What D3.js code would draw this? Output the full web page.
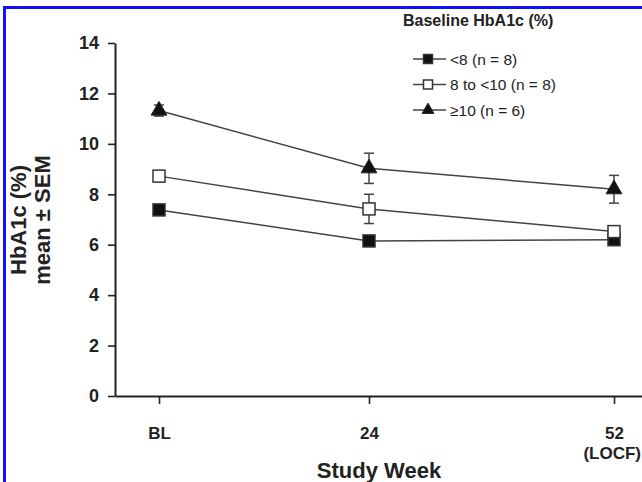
<!DOCTYPE html>
<html>
<head>
<meta charset="utf-8">
<script src="https://cdn.jsdelivr.net/npm/d3@7"></script>
<style>
  body { margin: 0; background: #fff; }
  svg { display: block; font-family: "Liberation Sans", Arial, sans-serif; }
</style>
</head>
<body>
<div id="chart"></div>
<script>
// study weeks (BL = 0), with tick labels
const weeks = [0, 24, 52];
const weekLabels = ["BL", "24", "52"];
const yTicks = [0, 2, 4, 6, 8, 10, 12, 14];

// series: mean HbA1c and SEM
const seriesNames = ["<8 (n = 8)", "8 to <10 (n = 8)", "\u226510 (n = 6)"];
const lowMean = [7.38, 6.15, 6.2];
const lowSem = [0.1, 0.1, 0.1];
const midMean = [8.72, 7.42, 6.52];
const midSem = [0.15, 0.58, 0.12];
const highMean = [11.32, 9.03, 8.2];
const highSem = [0.22, 0.6, 0.55];

const width = 642, height = 482;
const margin = {top: 43, right: 0, bottom: 86, left: 115};

const svg = d3.select("#chart").append("svg")
    .attr("width", width)
    .attr("height", height);

// blue frame (clipped at right and bottom like the picture)
svg.append("rect")
    .attr("x", 4.5).attr("y", 7.5)
    .attr("width", width + 10).attr("height", height + 10)
    .attr("fill", "none")
    .attr("stroke", "#1010ff")
    .attr("stroke-width", 3);

let x = d3.scaleLinear()
    .domain([-5.03, 55.2])
    .range([margin.left, width - margin.right]);

let y = d3.scaleLinear()
    .domain([0, 14])
    .range([height - margin.bottom, margin.top]);

const series = [
  {name: seriesNames[0], mean: lowMean, sem: lowSem, shape: "square", fill: "#111"},
  {name: seriesNames[1], mean: midMean, sem: midSem, shape: "square", fill: "#fff"},
  {name: seriesNames[2], mean: highMean, sem: highSem, shape: "triangle", fill: "#111"}
];

// axes
let yAxis = g => g
    .attr("transform", `translate(${margin.left},0)`)
    .call(d3.axisLeft(y).tickValues(yTicks).tickSize(7).tickPadding(9).tickSizeOuter(0))
    .call(g => g.select(".domain").attr("stroke", "#222").attr("stroke-width", 2))
    .call(g => g.selectAll(".tick line").attr("stroke", "#222").attr("stroke-width", 1.6))
    .call(g => g.selectAll("text").attr("font-size", 18).attr("font-weight", "bold").attr("fill", "#222"));

let xAxis = g => g
    .attr("transform", `translate(0,${y(0)})`)
    .call(d3.axisBottom(x).tickValues(weeks).tickFormat((d, i) => weekLabels[i]).tickSize(8).tickPadding(23).tickSizeOuter(0))
    .call(g => g.select(".domain").attr("stroke", "#222").attr("stroke-width", 2))
    .call(g => g.selectAll(".tick line").attr("stroke", "#222").attr("stroke-width", 1.6))
    .call(g => g.selectAll("text").attr("font-size", 17).attr("font-weight", "bold").attr("fill", "#222"));

svg.append("g").call(xAxis);
svg.append("g").call(yAxis);

// (LOCF) under the 52 tick, kept inside the right edge
svg.append("text")
    .attr("x", width - 1).attr("y", 459)
    .attr("text-anchor", "end")
    .attr("font-size", 17).attr("font-weight", "bold").attr("fill", "#222")
    .text("(LOCF)");

// axis titles
svg.append("text")
    .attr("x", 379).attr("y", 478)
    .attr("text-anchor", "middle")
    .attr("font-size", 22).attr("font-weight", "bold").attr("fill", "#222")
    .text("Study Week");

const yt = svg.append("text")
    .attr("transform", "translate(26,220) rotate(-90)")
    .attr("text-anchor", "middle")
    .attr("font-size", 22).attr("font-weight", "bold").attr("fill", "#222");
yt.append("tspan").attr("x", 0).attr("dy", 0).text("HbA1c (%)");
yt.append("tspan").attr("x", 0).attr("dy", 24).text("mean \u00b1 SEM");

function marker(g, shape, fill, size) {
  if (shape === "square") {
    g.append("rect")
      .attr("x", -size / 2).attr("y", -size / 2)
      .attr("width", size).attr("height", size)
      .attr("fill", fill).attr("stroke", "#333").attr("stroke-width", 1.5);
  } else {
    g.append("path")
      .attr("d", d3.symbol(d3.symbolTriangle, size * size * 0.75)())
      .attr("fill", fill).attr("stroke", "#222").attr("stroke-width", 1);
  }
}

const line = d3.line().x((d, i) => x(weeks[i])).y(d => y(d));

series.forEach(s => {
  const g = svg.append("g");
  // error bars
  s.mean.forEach((m, i) => {
    const cx = x(weeks[i]);
    const e = g.append("g").attr("stroke", "#444").attr("stroke-width", 1.5);
    e.append("line").attr("x1", cx).attr("x2", cx).attr("y1", y(m - s.sem[i])).attr("y2", y(m + s.sem[i]));
    e.append("line").attr("x1", cx - 5).attr("x2", cx + 5).attr("y1", y(m + s.sem[i])).attr("y2", y(m + s.sem[i]));
    e.append("line").attr("x1", cx - 5).attr("x2", cx + 5).attr("y1", y(m - s.sem[i])).attr("y2", y(m - s.sem[i]));
  });
  g.append("path")
    .attr("d", line(s.mean))
    .attr("fill", "none")
    .attr("stroke", "#444")
    .attr("stroke-width", 1.5);
  s.mean.forEach((m, i) => {
    const mg = g.append("g").attr("transform", `translate(${x(weeks[i])},${y(m)})`);
    marker(mg, s.shape, s.fill, 12);
  });
});

// legend
svg.append("text")
    .attr("x", 403).attr("y", 26)
    .attr("font-size", 16).attr("font-weight", "bold").attr("fill", "#222")
    .text("Baseline HbA1c (%)");

series.forEach((s, i) => {
  const ly = 59 + i * 25.5;
  const lg = svg.append("g");
  lg.append("line")
    .attr("x1", 413).attr("x2", 446).attr("y1", ly).attr("y2", ly)
    .attr("stroke", "#444").attr("stroke-width", 1.5);
  const mg = lg.append("g").attr("transform", `translate(428,${ly})`);
  marker(mg, s.shape, s.fill, 9);
  lg.append("text")
    .attr("x", 450).attr("y", ly + 5.5)
    .attr("font-size", 15.5).attr("fill", "#222")
    .text(s.name);
});
</script>
</body>
</html>
